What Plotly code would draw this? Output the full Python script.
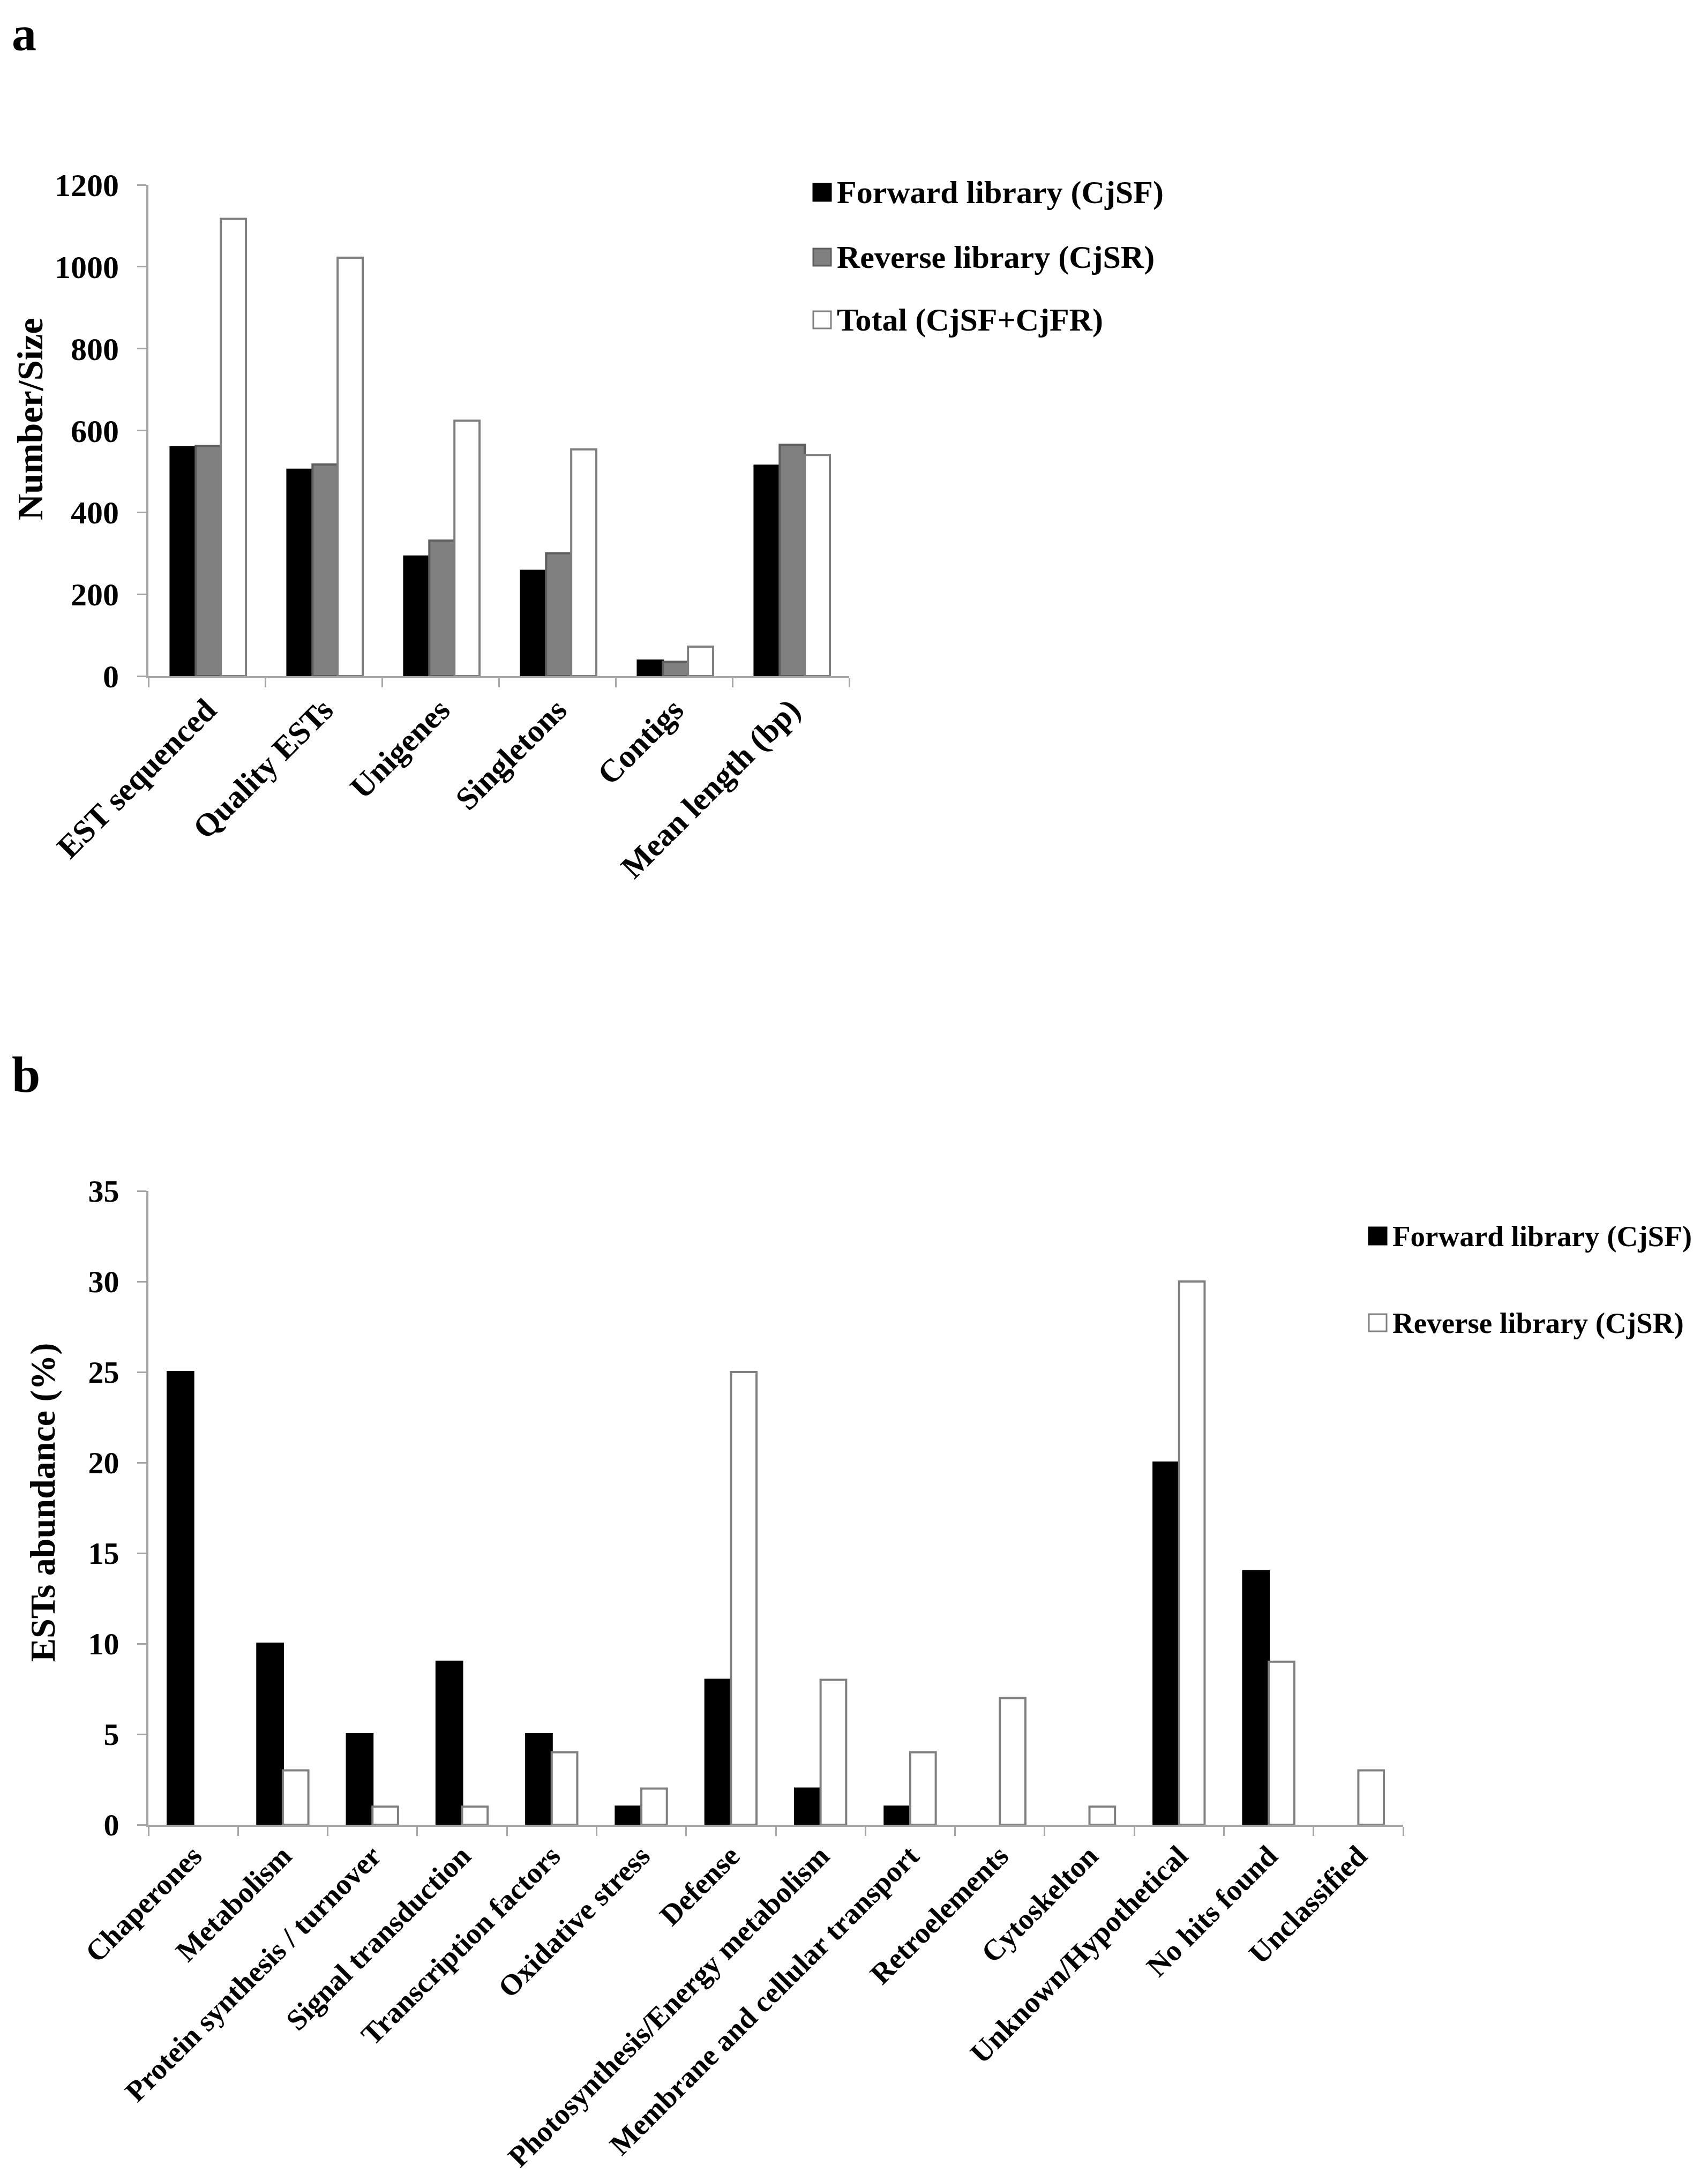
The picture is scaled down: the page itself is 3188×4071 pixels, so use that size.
import plotly.graph_objects as go

W, H = 3188, 4071

# ---- panel a: library statistics ----
cats_a = ["EST sequenced", "Quality ESTs", "Unigenes", "Singletons", "Contigs", "Mean length (bp)"]
forward_a = [559, 504, 292, 257, 38, 514]
reverse_a = [562, 517, 331, 300, 35, 565]
total_a = [1117, 1022, 624, 554, 72, 540]
names_a = ["Forward library (CjSF)", "Reverse library (CjSR)", "Total (CjSF+CjFR)"]
yticks_a = [0, 200, 400, 600, 800, 1000, 1200]

# ---- panel b: functional categories ----
cats_b = ["Chaperones", "Metabolism", "Protein synthesis / turnover", "Signal transduction",
          "Transcription factors", "Oxidative stress", "Defense", "Photosynthesis/Energy metabolism",
          "Membrane and cellular transport", "Retroelements", "Cytoskelton",
          "Unknown/Hypothetical", "No hits found", "Unclassified"]
forward_b = [25, 10, 5, 9, 5, 1, 8, 2, 1, 0, 0, 20, 14, 0]
reverse_b = [0, 3, 1, 1, 4, 2, 25, 8, 4, 7, 1, 30, 9, 3]
names_b = ["Forward library (CjSF)", "Reverse library (CjSR)"]
yticks_b = [0, 5, 10, 15, 20, 25, 30, 35]

FONT = "Liberation Serif"
AXIS_GREY = "#a6a6a6"


def px(x):
    return x / W


def py(y):
    return 1 - y / H


fills_a = [("#000000", "#000000"), ("#808080", "#5e5e5e"), ("#ffffff", "#808080")]
offsets_a = [-0.31, -0.095, 0.12]
fills_b = [("#000000", "#000000"), ("#ffffff", "#808080")]
offsets_b = [-0.285, 0.0]

fig = go.Figure()

for vals, name, (fill, edge), off in zip([forward_a, reverse_a, total_a], names_a, fills_a, offsets_a):
    fig.add_trace(go.Bar(
        x=cats_a, y=vals, name=name, width=0.215, offset=off,
        marker=dict(color=fill, line=dict(color=edge, width=[0 if v == 0 else 4 for v in vals])),
        xaxis="x", yaxis="y", showlegend=False,
    ))

for vals, name, (fill, edge), off in zip([forward_b, reverse_b], names_b, fills_b, offsets_b):
    fig.add_trace(go.Bar(
        x=cats_b, y=vals, name=name, width=0.285, offset=off,
        marker=dict(color=fill, line=dict(color=edge, width=[0 if v == 0 else 4 for v in vals])),
        xaxis="x2", yaxis="y2", showlegend=False,
    ))

axis_style = dict(showline=True, linecolor=AXIS_GREY, linewidth=4, ticks="outside",
                  tickcolor=AXIS_GREY, tickwidth=3, ticklen=17, showgrid=False,
                  zeroline=False, automargin=False)

fig.update_layout(
    template="none",
    width=W, height=H,
    margin=dict(l=0, r=0, t=0, b=0, pad=0),
    paper_bgcolor="white", plot_bgcolor="white",
    font=dict(family=FONT, color="black", weight="bold"),
    barmode="overlay",
    xaxis=dict(domain=[px(269), px(1577)], anchor="y", type="category", range=[-0.5, 5.5],
               tickson="boundaries", tickangle=-45,
               tickfont=dict(family=FONT, size=60, weight="bold", color="black"), **axis_style),
    yaxis=dict(domain=[py(1254), py(337)], anchor="x", range=[0, 1200], tickvals=yticks_a,
               ticklabelstandoff=22,
               tickfont=dict(family=FONT, size=60, weight="bold", color="black"), **axis_style),
    xaxis2=dict(domain=[px(269), px(2611)], anchor="y2", type="category", range=[-0.5, 13.5],
                tickson="boundaries", tickangle=-45,
                tickfont=dict(family=FONT, size=55, weight="bold", color="black"), **axis_style),
    yaxis2=dict(domain=[py(3398), py(2215)], anchor="x2", range=[0, 35], tickvals=yticks_b,
                ticklabelstandoff=22,
                tickfont=dict(family=FONT, size=58, weight="bold", color="black"), **axis_style),
)

annotations = [
    dict(text="a", x=px(12), y=py(2), xanchor="left", yanchor="top", font=dict(size=92)),
    dict(text="b", x=px(12), y=py(1998), xanchor="left", yanchor="middle", font=dict(size=96)),
    dict(text="Number/Size", x=px(48), y=py(774), textangle=-90, xanchor="center",
         yanchor="middle", font=dict(size=68)),
    dict(text="ESTs abundance (%)", x=px(72), y=py(2797), textangle=-90, xanchor="center",
         yanchor="middle", font=dict(size=66)),
]
shapes = []

# hand-drawn legends (swatch + label)
legend_a = dict(x=1510, rows=[351, 472, 589], size=60)
legend_b = dict(x=2547, rows=[2299, 2461], size=55)
for names, fills, leg in [(names_a, fills_a, legend_a), (names_b, fills_b, legend_b)]:
    for name, (fill, edge), yc in zip(names, fills, leg["rows"]):
        shapes.append(dict(type="rect", xref="paper", yref="paper",
                           x0=px(leg["x"]), x1=px(leg["x"] + 33),
                           y0=py(yc + 16), y1=py(yc - 16),
                           fillcolor=fill, line=dict(color=edge, width=3)))
        annotations.append(dict(text=name, x=px(leg["x"] + 42), y=py(yc), xanchor="left",
                                yanchor="middle", font=dict(size=leg["size"])))

for a in annotations:
    a.update(xref="paper", yref="paper", showarrow=False)
    a["font"].update(family=FONT, color="black", weight="bold")

fig.update_layout(annotations=annotations, shapes=shapes)

fig.write_html("out.html")
